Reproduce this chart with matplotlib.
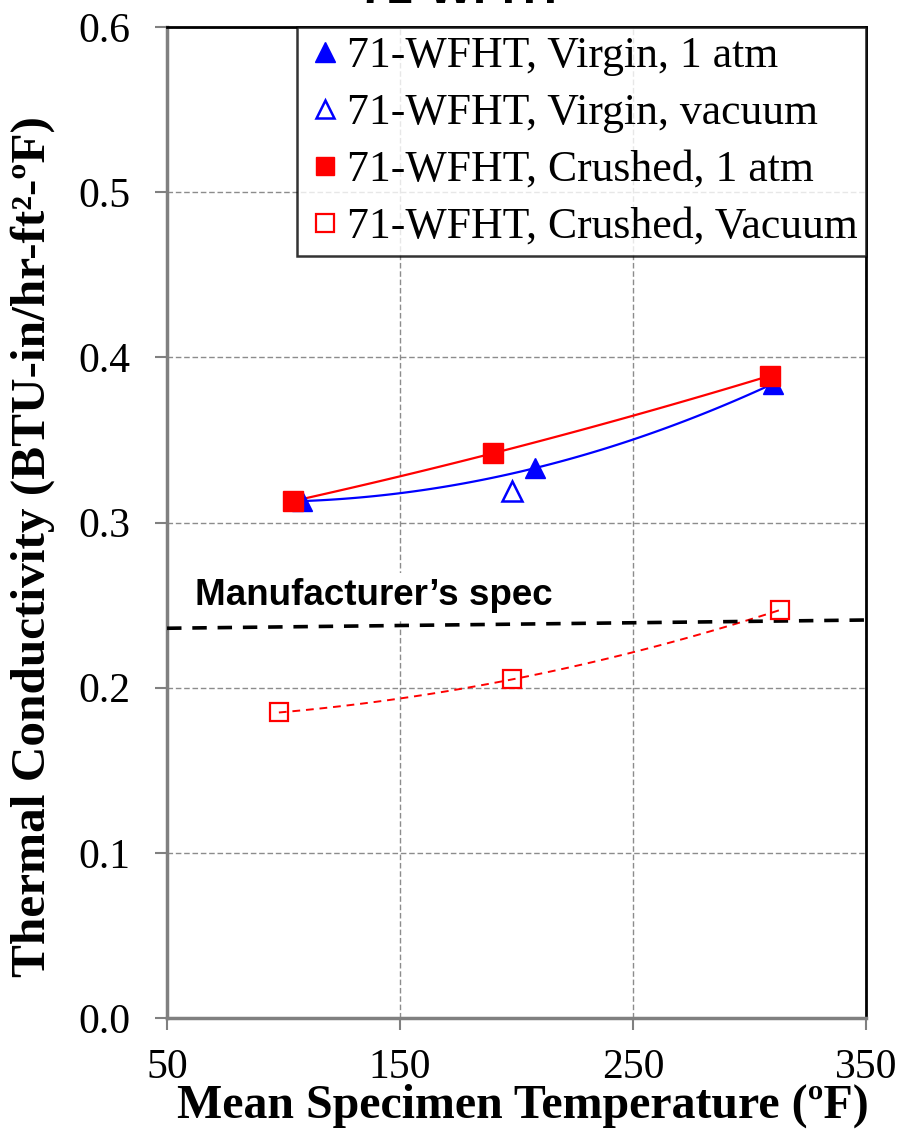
import numpy as np
import matplotlib
matplotlib.use("Agg")
import matplotlib.pyplot as plt

# ---------------------------------------------
# data
# ---------------------------------------------
virgin_atm_t = [108, 208, 310]
virgin_atm_k = [0.313, 0.333, 0.384]

virgin_vac_t = [198]
virgin_vac_k = [0.319]

crushed_atm_t = [104, 190, 309]
crushed_atm_k = [0.313, 0.342, 0.389]

crushed_vac_t = [98, 198, 313]
crushed_vac_k = [0.185, 0.205, 0.247]

spec_t = [50, 350]
spec_k = [0.236, 0.241]

x_ticks = [50, 150, 250, 350]
y_ticks = [0.0, 0.1, 0.2, 0.3, 0.4, 0.5, 0.6]

labels = ["71-WFHT, Virgin, 1 atm", "71-WFHT, Virgin, vacuum",
          "71-WFHT, Crushed, 1 atm", "71-WFHT, Crushed, Vacuum"]

SERIF = ["Liberation Serif", "DejaVu Serif"]
SANS = ["Liberation Sans", "DejaVu Sans"]


def trend(t, k):
    # 2nd order polynomial trendline, like the spreadsheet one
    c = np.polyfit(t, k, 2)
    tt = np.linspace(min(t), max(t), 100)
    return tt, np.polyval(c, tt)


fig = plt.figure(figsize=(9, 11.29), dpi=100)
ax = fig.add_axes([0.1856, 0.0983, 0.7766, 0.8777])

# trendlines
tt, kk = trend(virgin_atm_t, virgin_atm_k)
ax.plot(tt, kk, color="blue", lw=1.6, zorder=3)
tt, kk = trend(crushed_atm_t, crushed_atm_k)
ax.plot(tt, kk, color="red", lw=1.6, zorder=3)
tt, kk = trend(crushed_vac_t, crushed_vac_k)
ax.plot(tt, kk, color="red", lw=1.4, ls=(0, (4, 3)), zorder=3)

# manufacturer's spec
ax.plot(spec_t, spec_k, color="black", lw=2.6, ls=(0, (4, 3)), zorder=3)
ax.text(62, 0.250, "Manufacturer\u2019s spec", family=SANS, weight="bold",
        fontsize=26.5, ha="left", va="baseline", zorder=2,
        bbox=dict(facecolor="white", edgecolor="none", pad=4))

# markers
h1, = ax.plot(virgin_atm_t, virgin_atm_k, ls="none", marker="^", ms=15,
              color="blue", mec="blue", zorder=5)
h2, = ax.plot(virgin_vac_t, virgin_vac_k, ls="none", marker="^", ms=14,
              mfc="white", mec="blue", mew=1.8, zorder=5)
h3, = ax.plot(crushed_atm_t, crushed_atm_k, ls="none", marker="s", ms=14,
              color="red", mec="red", zorder=6)
h4, = ax.plot(crushed_vac_t, crushed_vac_k, ls="none", marker="s", ms=13,
              mfc="none", mec="red", mew=1.6, zorder=5)

ax.set_xlim(50, 350)
ax.set_ylim(0.0, 0.6)
ax.set_xticks(x_ticks)
ax.set_yticks(y_ticks)
ax.set_xticklabels([str(v) for v in x_ticks], family=SERIF, fontsize=30)
ax.set_yticklabels(["%.1f" % v for v in y_ticks], family=SERIF, fontsize=30)
ax.tick_params(axis="both", direction="out", length=8.6, width=1.5,
               color="#808080")
ax.tick_params(axis="y", pad=18)
ax.tick_params(axis="x", pad=13)

ax.grid(True, color="#8c8c8c", ls=(0, (4, 2)), lw=1.0)
ax.set_axisbelow(True)

for side in ["left", "bottom"]:
    ax.spines[side].set_color("#808080")
    ax.spines[side].set_linewidth(2.5)
for side in ["top", "right"]:
    ax.spines[side].set_color("black")
    ax.spines[side].set_linewidth(2.0)

ax.set_xlabel("Mean Specimen Temperature (\u00baF)", family=SERIF,
              weight="bold", fontsize=34.5, va="baseline")
ax.xaxis.set_label_coords(0.509, -0.1009)
ax.set_ylabel("Thermal Conductivity (BTU-in/hr-ft\u00b2-\u00baF)", family=SERIF,
              weight="bold", fontsize=35.5)
ax.yaxis.set_label_coords(-0.160, 0.476)

leg = ax.legend([h1, h2, h3, h4], labels, loc="upper right",
                prop=dict(family=SERIF, size=31.5), frameon=True, fancybox=False,
                borderaxespad=0, handletextpad=0.08, handlelength=0.85,
                labelspacing=0.39, borderpad=0.2, markerscale=0.95)
leg.get_frame().set_edgecolor("black")
leg.get_frame().set_linewidth(1.8)

# title is cut off at the top edge of the picture
fig.text(462 / 900, 1 - 3 / 1129, "71-WFHT", family=SANS, weight="bold",
         fontsize=34, ha="center", va="baseline")

fig.savefig("out.png", dpi=100)
